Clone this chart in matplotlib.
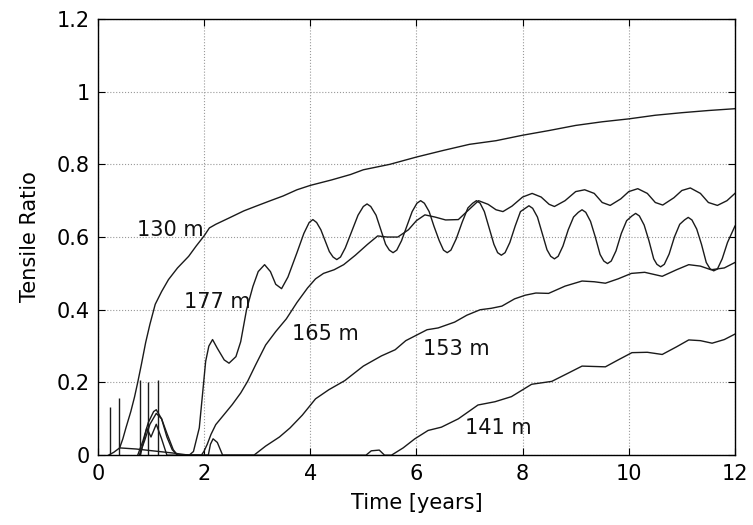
import matplotlib.pyplot as plt

plt.rcParams['font.family'] = ['DejaVu Sans']

# 130 m
x130 = [0.2, 0.3, 0.41, 0.47, 0.53, 0.62, 0.69, 0.75, 0.82, 0.9, 0.98, 1.08, 1.2, 1.33, 1.5,
        1.71, 1.85, 2.0, 2.1, 2.22, 2.48, 2.75, 2.98, 3.25, 3.49, 3.75, 4.0, 4.4, 4.76, 5.0,
        5.5, 6.0, 6.5, 7.0, 7.5, 8.0, 8.5, 9.0, 9.5, 10.0, 10.5, 11.0, 11.5, 12.0]
y130 = [0.0, 0.008, 0.02, 0.045, 0.076, 0.12, 0.16, 0.2, 0.25, 0.31, 0.36, 0.415, 0.45, 0.483, 0.515,
        0.547, 0.575, 0.603, 0.625, 0.635, 0.653, 0.672, 0.685, 0.70, 0.713, 0.73, 0.742, 0.757, 0.772, 0.785,
        0.80, 0.82, 0.838, 0.855, 0.865, 0.88, 0.893, 0.907, 0.917, 0.925, 0.935, 0.942, 0.948, 0.953]

# 177 m (x, y)
pts177 = [(0.41, 0.02), (0.72, 0.017), (1.03, 0.012), (1.41, 0.006), (1.72, 0.0), (1.8, 0.01),
          (1.91, 0.075), (1.97, 0.166), (2.03, 0.258), (2.09, 0.30), (2.16, 0.318), (2.25, 0.294),
          (2.38, 0.262), (2.47, 0.253), (2.6, 0.271), (2.69, 0.312), (2.8, 0.40), (2.92, 0.464),
          (3.02, 0.505), (3.14, 0.524), (3.25, 0.505), (3.35, 0.47), (3.46, 0.458), (3.58, 0.49),
          (3.75, 0.557), (3.88, 0.61), (3.98, 0.64), (4.05, 0.648), (4.12, 0.64), (4.2, 0.62),
          (4.28, 0.59), (4.36, 0.56), (4.43, 0.545), (4.5, 0.538), (4.57, 0.545), (4.66, 0.57),
          (4.78, 0.615), (4.9, 0.66), (5.0, 0.684), (5.07, 0.691), (5.14, 0.684), (5.24, 0.66),
          (5.33, 0.62), (5.42, 0.58), (5.49, 0.564), (5.56, 0.557), (5.63, 0.564), (5.72, 0.59),
          (5.82, 0.63), (5.92, 0.67), (6.01, 0.693), (6.08, 0.70), (6.15, 0.693), (6.24, 0.67),
          (6.33, 0.63), (6.43, 0.59), (6.51, 0.564), (6.58, 0.557), (6.65, 0.564), (6.75, 0.595),
          (6.86, 0.64), (6.97, 0.68), (7.06, 0.693), (7.13, 0.70), (7.2, 0.693), (7.28, 0.67),
          (7.37, 0.625), (7.46, 0.58), (7.53, 0.557), (7.6, 0.55), (7.67, 0.557), (7.76, 0.585),
          (7.86, 0.63), (7.96, 0.67), (8.05, 0.679), (8.12, 0.686), (8.19, 0.679), (8.28, 0.655),
          (8.37, 0.61), (8.46, 0.565), (8.53, 0.547), (8.6, 0.54), (8.67, 0.547), (8.76, 0.575),
          (8.86, 0.62), (8.96, 0.655), (9.05, 0.668), (9.12, 0.675), (9.19, 0.668), (9.28, 0.643),
          (9.37, 0.6), (9.46, 0.552), (9.53, 0.534), (9.6, 0.527), (9.67, 0.534), (9.76, 0.562),
          (9.86, 0.61), (9.96, 0.645), (10.06, 0.658), (10.13, 0.665), (10.2, 0.658), (10.29, 0.633),
          (10.38, 0.59), (10.47, 0.54), (10.53, 0.525), (10.6, 0.518), (10.67, 0.525), (10.76, 0.553),
          (10.86, 0.6), (10.96, 0.635), (11.05, 0.647), (11.12, 0.654), (11.19, 0.647), (11.28, 0.622),
          (11.37, 0.58), (11.46, 0.53), (11.53, 0.513), (11.6, 0.507), (11.67, 0.512), (11.76, 0.54),
          (11.86, 0.585), (12.0, 0.63)]
x177 = [p[0] for p in pts177]
y177 = [p[1] for p in pts177]

# 165 m
x165 = [0.75, 0.85, 0.95, 1.05, 1.1, 1.2, 1.3, 1.4, 1.5, 1.95, 2.0, 2.06, 2.13, 2.22, 2.35,
        2.53, 2.69, 2.82, 2.97, 3.16, 3.35, 3.55, 3.75, 3.95, 4.1, 4.25, 4.45, 4.63, 4.85, 5.08,
        5.27, 5.45, 5.65, 5.85, 6.0, 6.16, 6.35, 6.55, 6.79, 6.95, 7.17, 7.35, 7.5, 7.63, 7.8,
        8.0, 8.18, 8.35, 8.5, 8.6, 8.8, 9.0, 9.17, 9.35, 9.5, 9.65, 9.85, 10.0, 10.17, 10.35,
        10.5, 10.64, 10.85, 11.0, 11.16, 11.35, 11.5, 11.67, 11.85, 12.0]
y165 = [0.0, 0.04, 0.09, 0.12, 0.125, 0.10, 0.05, 0.015, 0.0, 0.0, 0.011, 0.03, 0.057, 0.084, 0.107,
        0.139, 0.171, 0.203, 0.248, 0.303, 0.34, 0.375, 0.42, 0.46, 0.485, 0.50, 0.51, 0.524, 0.55, 0.58,
        0.603, 0.60, 0.60, 0.62, 0.645, 0.661, 0.655, 0.647, 0.648, 0.67, 0.70, 0.69, 0.675, 0.67, 0.685,
        0.71, 0.72, 0.71, 0.69, 0.684, 0.70, 0.725, 0.73, 0.72, 0.695, 0.687, 0.705, 0.725, 0.733, 0.72,
        0.695, 0.688, 0.708, 0.728, 0.735, 0.72, 0.695, 0.687, 0.70, 0.72]

# 153 m
x153 = [0.78, 0.88, 0.98, 1.1, 1.2, 1.3, 1.42, 1.5, 2.08, 2.12, 2.17, 2.25, 2.35, 2.94, 3.16,
        3.42, 3.62, 3.85, 4.1, 4.35, 4.65, 5.0, 5.34, 5.6, 5.8, 6.0, 6.2, 6.41, 6.72, 6.95,
        7.2, 7.41, 7.61, 7.85, 8.05, 8.25, 8.49, 8.8, 9.12, 9.35, 9.56, 9.8, 10.05, 10.3, 10.63,
        10.9, 11.13, 11.35, 11.55, 11.8, 12.0]
y153 = [0.0, 0.04, 0.085, 0.115, 0.10, 0.06, 0.015, 0.0, 0.0, 0.03, 0.045, 0.035, 0.0, 0.0, 0.025,
        0.05, 0.075, 0.11, 0.155, 0.18, 0.205, 0.245, 0.273, 0.29, 0.315, 0.33, 0.345, 0.35, 0.366, 0.385,
        0.40, 0.404, 0.41, 0.43, 0.44, 0.446, 0.445, 0.465, 0.479, 0.477, 0.473, 0.485, 0.50, 0.503, 0.492,
        0.51, 0.524, 0.52, 0.51, 0.515, 0.53]

# 141 m
x141 = [0.8, 0.92, 1.0, 1.1, 1.2, 1.3, 5.05, 5.15, 5.3, 5.4, 5.53, 5.75, 5.97, 6.22, 6.47,
        6.79, 7.16, 7.48, 7.79, 8.17, 8.55, 8.85, 9.12, 9.56, 9.8, 10.06, 10.35, 10.63, 10.9, 11.13,
        11.35, 11.57, 11.8, 12.0]
y141 = [0.0, 0.075, 0.05, 0.085, 0.045, 0.0, 0.0, 0.012, 0.014, 0.0, 0.0, 0.02, 0.045, 0.068, 0.077,
        0.10, 0.138, 0.147, 0.161, 0.195, 0.203, 0.225, 0.245, 0.243, 0.262, 0.282, 0.283, 0.277, 0.298, 0.317,
        0.315, 0.308, 0.318, 0.333]

# early spikes
spike_x = [0.23, 0.39, 0.79, 0.95, 1.125]
spike_top = [0.133, 0.157, 0.208, 0.2, 0.206]

labels = ['130 m', '177 m', '165 m', '153 m', '141 m']
label_x = [1.36, 2.25, 4.28, 6.75, 7.55]
label_y = [0.62, 0.42, 0.334, 0.292, 0.076]

fig = plt.figure(figsize=(7.53, 5.25), dpi=100)
ax = fig.add_axes([0.130, 0.133, 0.846, 0.831])

for xs, ys in [(x130, y130), (x177, y177), (x165, y165), (x153, y153), (x141, y141)]:
    ax.plot(xs, ys, color='#1a1a1a', linewidth=1.0)
ax.vlines(spike_x, 0, spike_top, color='#1a1a1a', linewidth=1.0)

for t, lx, ly in zip(labels, label_x, label_y):
    ax.text(lx, ly, t, fontsize=15, ha='center', va='center', color='#111111')

ax.set_xlim(0, 12)
ax.set_ylim(0, 1.2)
ax.set_xticks([0, 2, 4, 6, 8, 10, 12])
ax.set_yticks([0, 0.2, 0.4, 0.6, 0.8, 1.0, 1.2])
ax.set_yticklabels(['0', '0.2', '0.4', '0.6', '0.8', '1', '1.2'])
ax.grid(True, linestyle=':', color='#999999', linewidth=0.8)
ax.tick_params(direction='in', top=True, right=True, labelsize=15, length=5, pad=6)
for s in ax.spines.values():
    s.set_linewidth(1.0)
ax.set_xlabel('Time [years]', fontsize=15, labelpad=7)
ax.set_ylabel('Tensile Ratio', fontsize=15, labelpad=12)

fig.savefig('out.png', dpi=100)
